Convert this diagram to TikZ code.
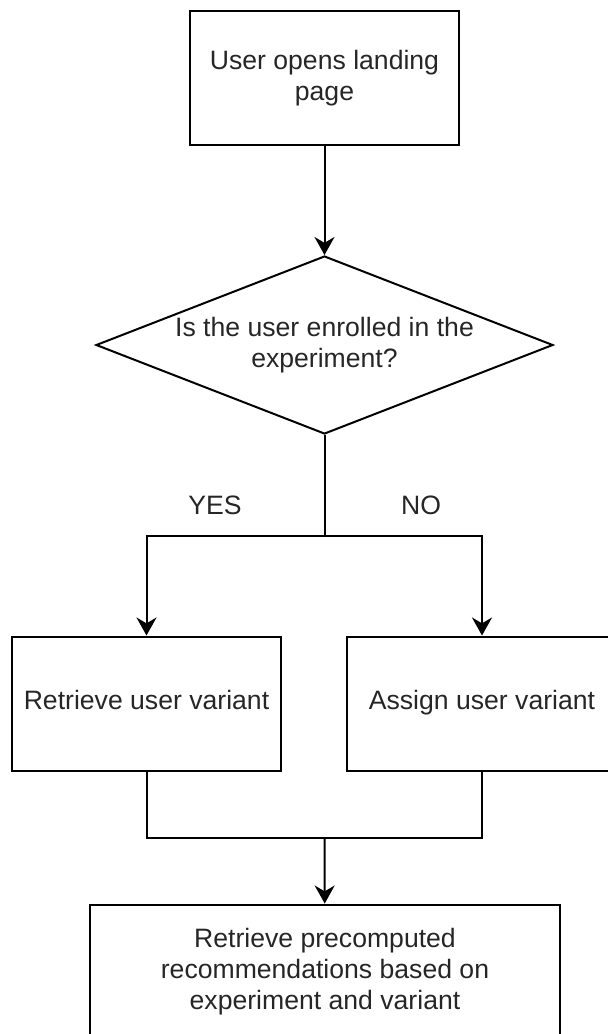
\documentclass[tikz,border=0pt]{standalone}
\usepackage{fontspec}
\setmainfont{Liberation Sans}
\usetikzlibrary{shapes.geometric}
\usetikzlibrary{arrows.meta}
\tikzset{%
	process/.style={
		draw, rectangle,
		minimum width=134.5pt, minimum height=67pt,
		inner sep=0pt, align=center
	}
}
\tikzset{decision/.style={draw, diamond, shape aspect=2.57, minimum width=228.5pt, minimum height=89pt, inner sep=0pt, align=center}}
\tikzset{flow/.style={-{Stealth[length=9pt,width=10pt]}}}
\tikzset{answer/.style={inner sep=0pt}}

\begin{document}
\begin{tikzpicture}[x=0.5pt, y=-0.5pt, line width=1pt]
		% Default font for each node
		\tikzstyle{every node}=[font=\fontsize{13.3}{15.5}\selectfont, text=black!85];
		\useasboundingbox (0,0) rectangle (608,1034);

		\node[process] (landing) at (324.5,78) {User opens landing\\page};
		\node[decision] (enrolled) at (324.5,345) {Is the user enrolled in the\\experiment?};
		\coordinate (split) at (324.5,536);
		\node[answer] (yes) at (215,505) {YES};		\node[answer] (no) at (421,505) {NO};
		\node[process] (retrieve) at (146.5,703.5) {\strut Retrieve user variant};	\node[process, minimum width=135pt] (assign) at (482,703.5) {\strut Assign user variant};
		\coordinate (join) at (324.5,838);
		\node[process, minimum width=235pt] (recs) at (325,971.5) {Retrieve precomputed\\recommendations based on\\experiment and variant};

		\draw[flow] (landing) -- (enrolled);
		\draw (enrolled) -- (split);
		\draw[flow] (split) -| (retrieve);
		\draw[flow] (split) -| (assign);

		\draw (retrieve) |- (join);
		\draw (assign) |- (join);
		\draw[flow] (join) -- (recs);

	\end{tikzpicture}
\end{document}
